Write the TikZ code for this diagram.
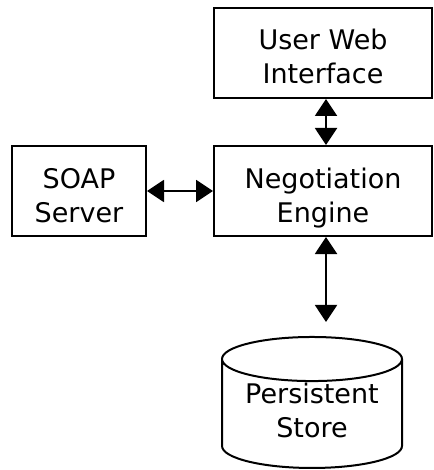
\documentclass[tikz,border=0pt]{standalone}
\usepackage{fontspec}
\setmainfont{DejaVu Sans}
\usetikzlibrary{arrows.meta,shapes.geometric}

% two lines of text with fixed top and bottom room
\newcommand{\twolines}[3][7pt]{\rule{0pt}{35pt}#2\\#3\rule[-#1]{0pt}{#1}}

\tikzset{
  block/.style={draw, line width=2pt, minimum height=90pt, inner sep=0pt,
    align=center, font=\fontsize{27}{34}\selectfont},
  dbstore/.style={cylinder, shape border rotate=90, draw, line width=2pt,
    aspect=0.33, minimum width=180pt, minimum height=131pt, inner sep=0pt,
    align=center, font=\fontsize{27}{34}\selectfont},
  link/.style={line width=2pt,
    {Triangle[width=22pt,length=17pt]}-{Triangle[width=22pt,length=17pt]}},
}

\begin{document}
\begin{tikzpicture}[x=1pt,y=-1pt]
  \useasboundingbox (0,0) rectangle (433,470);

  \node[block, minimum width=218pt] (ui)   at (323,53)  {\twolines{User Web}{Interface}};
  \node[block, minimum width=218pt] (neg)  at (323,191) {\twolines{Negotiation}{Engine}};
  \node[block, minimum width=134pt] (soap) at (79,191)  {\twolines{SOAP}{Server}};
  \node[dbstore]                    (db)   at (312,414) {Persistent\\Store\rule[-8pt]{0pt}{8pt}};

  \draw[link] (soap.east) -- (neg.west);
  \draw[link] ([xshift=3pt]ui.south) -- ([xshift=3pt]neg.north);
  \draw[link] ([xshift=3pt]neg.south) -- ([xshift=14pt,yshift=14pt]db.north);
\end{tikzpicture}
\end{document}
